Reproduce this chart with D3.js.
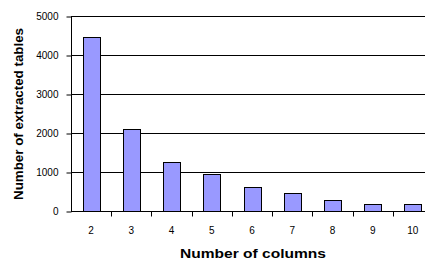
<!DOCTYPE html>
<html>
<head>
<meta charset="utf-8">
<script src="https://cdn.jsdelivr.net/npm/d3@7"></script>
<style>
  body { margin: 0; background: #fff; }
  svg { display: block; font-family: "Liberation Sans", Arial, sans-serif; }
</style>
</head>
<body>
<svg></svg>
<script>
// chart data
var columns = ["2", "3", "4", "5", "6", "7", "8", "9", "10"]
var tables = [4460, 2110, 1255, 950, 615, 470, 270, 185, 185]
var yTicks = [0, 1000, 2000, 3000, 4000, 5000]

var screen = {width: 425, height: 261}
// plot area runs past the right edge, like the original crop
var plot = {left: 71, right: 433, top: 16, bottom: 211}

var svg = d3.select("svg")
  .attr("width", screen.width)
  .attr("height", screen.height)

var xScale = d3.scaleBand()
  .domain(columns)
  .range([plot.left, plot.right])
  .padding(0)

var yScale = d3.scaleLinear()
  .domain([0, 5000])
  .range([plot.bottom, plot.top])

// gridlines
svg.append("g")
  .selectAll("line")
  .data(yTicks.slice(1))
  .enter()
  .append("line")
  .attr("x1", plot.left)
  .attr("x2", plot.right)
  .attr("y1", function(d){ return Math.round(yScale(d)) + 0.5 })
  .attr("y2", function(d){ return Math.round(yScale(d)) + 0.5 })
  .attr("stroke", "#000")
  .attr("stroke-width", 1)

// bars
var barW = xScale.bandwidth() * 0.42
svg.append("g")
  .selectAll("rect")
  .data(tables)
  .enter()
  .append("rect")
  .attr("x", function(d, i){ return Math.round(xScale(columns[i]) + (xScale.bandwidth() - barW) / 2) + 0.5 })
  .attr("y", function(d){ return Math.round(yScale(d)) + 0.5 })
  .attr("width", Math.round(barW))
  .attr("height", function(d){ return Math.round(yScale(0)) - Math.round(yScale(d)) })
  .attr("fill", "#9999ff")
  .attr("stroke", "#000")
  .attr("stroke-width", 1)

// y axis
var yAxis = d3.axisLeft(yScale)
  .tickValues(yTicks)
  .tickFormat(d3.format("d"))
  .tickSize(5)
  .tickPadding(8)
svg.append("g")
  .attr("id", "yAxis")
  .attr("transform", "translate(" + (plot.left + 0.5) + ",0.5)")
  .call(yAxis)
  .call(function(g){
    g.select(".domain").attr("d", "M0," + plot.bottom + "V" + plot.top)
    g.selectAll("text").attr("font-size", 10).attr("fill", "#000")
  })
  .attr("font-family", null)

// x axis: ticks at category boundaries, labels centered
var xAxisG = svg.append("g")
  .attr("id", "xAxis")
  .attr("transform", "translate(0," + (Math.round(yScale(0)) + 0.5) + ")")
xAxisG.append("line")
  .attr("x1", plot.left)
  .attr("x2", plot.right)
  .attr("stroke", "#000")
xAxisG.selectAll(".tick")
  .data(columns)
  .enter()
  .append("line")
  .attr("x1", function(d){ return Math.round(xScale(d) + xScale.bandwidth()) + 0.5 })
  .attr("x2", function(d){ return Math.round(xScale(d) + xScale.bandwidth()) + 0.5 })
  .attr("y1", 0)
  .attr("y2", 5)
  .attr("stroke", "#000")
xAxisG.selectAll("text")
  .data(columns)
  .enter()
  .append("text")
  .attr("x", function(d){ return xScale(d) + xScale.bandwidth() / 2 })
  .attr("y", 22)
  .attr("text-anchor", "middle")
  .attr("font-size", 10)
  .text(function(d){ return d })

// axis titles
svg.append("text")
  .attr("x", 253)
  .attr("y", 258)
  .attr("text-anchor", "middle")
  .attr("font-size", 13)
  .attr("font-weight", "bold")
  .attr("textLength", 146)
  .attr("lengthAdjust", "spacingAndGlyphs")
  .text("Number of columns")

svg.append("text")
  .attr("transform", "translate(23,114) rotate(-90)")
  .attr("text-anchor", "middle")
  .attr("font-size", 13)
  .attr("font-weight", "bold")
  .attr("textLength", 172)
  .attr("lengthAdjust", "spacingAndGlyphs")
  .text("Number of extracted tables")
</script>
</body>
</html>
